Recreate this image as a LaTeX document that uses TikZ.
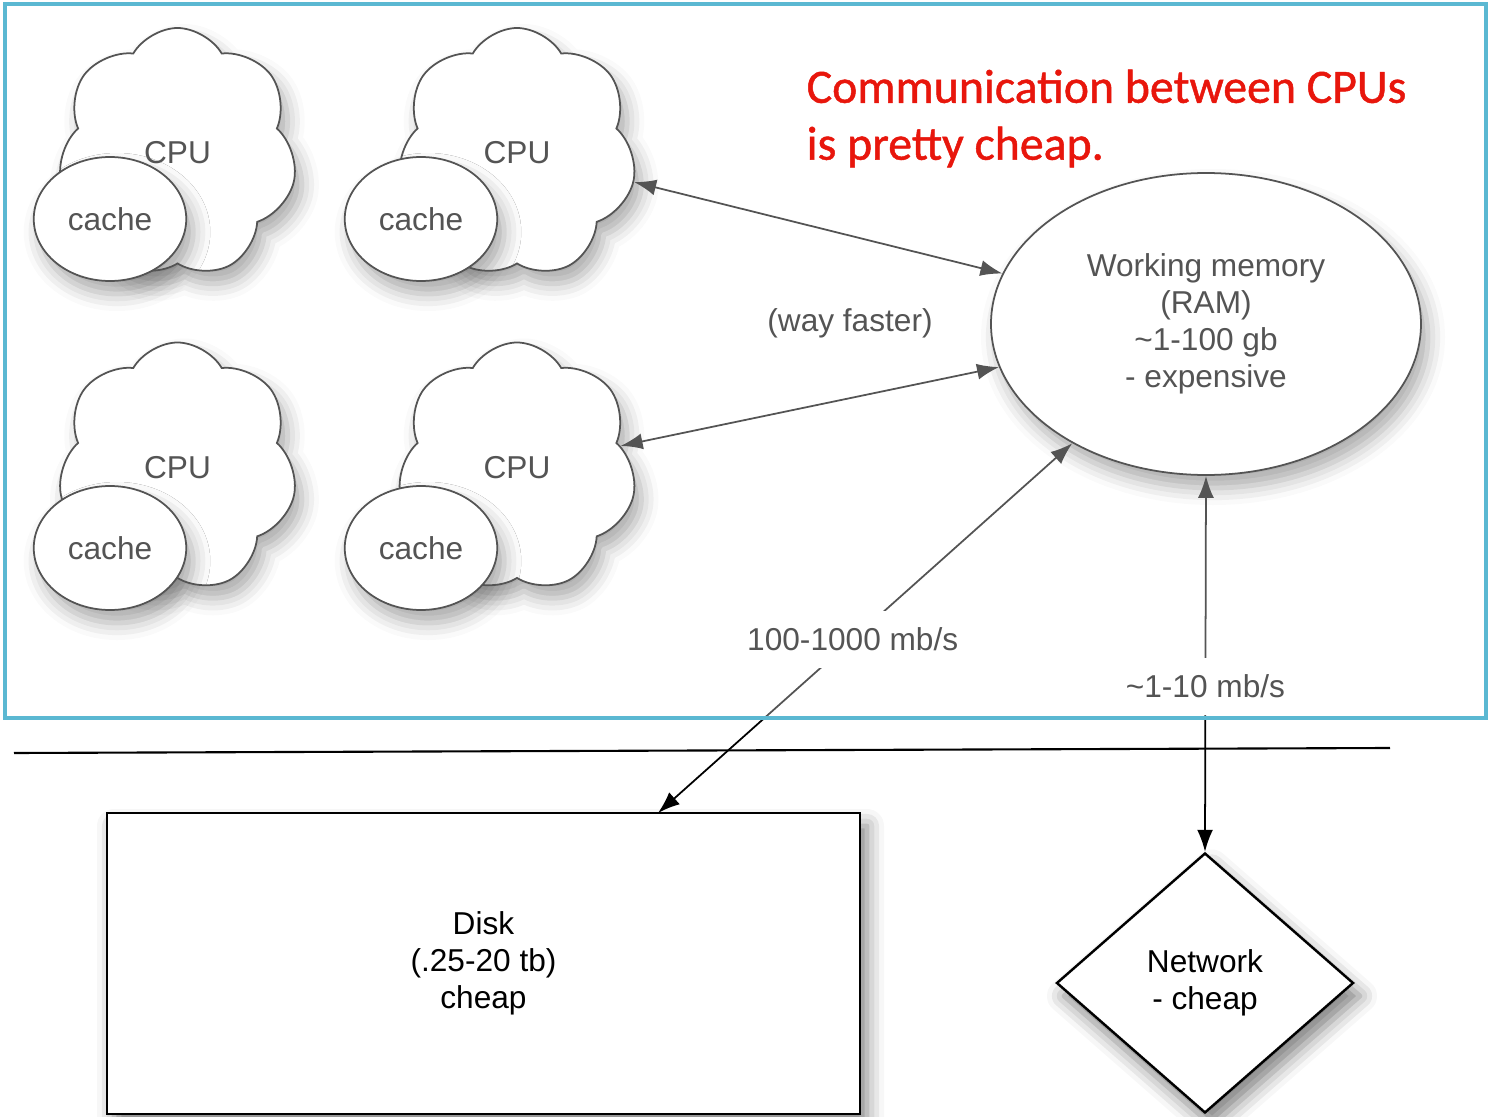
\documentclass[tikz,border=0pt]{standalone}
\usepackage{fontspec}
\setmainfont{Liberation Sans}
\newfontfamily\notefont[FakeBold=1]{Carlito}
\usetikzlibrary{shapes.symbols,shapes.geometric,arrows.meta,shadows.blur}
\definecolor{framecol}{RGB}{91,184,210}
\definecolor{notered}{RGB}{232,22,12}

\tikzset{
  softshadow/.style={blur shadow={shadow xshift=0.7mm, shadow yshift=-1.3mm, shadow blur radius=1.7mm, shadow opacity=50}},
  cpucloud/.style={cloud, cloud puffs=7, cloud puff arc=120, aspect=1, draw, fill=white,
    minimum width=2.39cm, minimum height=2.5cm, line width=0.5pt, softshadow},
  cachebox/.style={ellipse, draw, fill=white, minimum width=1.5cm, minimum height=1.24cm,
    line width=0.5pt, softshadow},
  link/.style={line width=0.5pt, {Latex[length=2.2mm,width=1.6mm]}-{Latex[length=2.2mm,width=1.6mm]}},
  ratelabel/.style={fill=white, inner xsep=2pt, inner ysep=0.17cm},
}

\begin{document}
\begin{tikzpicture}[every node/.style={font=\fontsize{9pt}{10.5pt}\selectfont}]
  \useasboundingbox (0,0) rectangle (14.88,-11.17);
  % CPUs with their caches
  \node[cpucloud] (cpu1) at (1.775,-1.53) {CPU};
  \node[cachebox] (cache1) at (1.10,-2.19) {cache};
  \node[cpucloud] (cpu2) at (5.17,-1.53) {CPU};
  \node[cachebox] (cache2) at (4.21,-2.19) {cache};
  \node[cpucloud] (cpu3) at (1.775,-4.675) {CPU};
  \node[cachebox] (cache3) at (1.10,-5.48) {cache};
  \node[cpucloud] (cpu4) at (5.17,-4.675) {CPU};
  \node[cachebox] (cache4) at (4.21,-5.48) {cache};
  % Memory
  \node[ellipse, draw, fill=white, minimum width=4.3cm, minimum height=3.02cm,
    line width=0.5pt, align=center, softshadow] (ram) at (12.06,-3.24)
    {Working memory\\(RAM)\\\textasciitilde1-100 gb\\- expensive};
  % Disk and network
  \node[rectangle, draw, fill=white, minimum width=7.53cm, minimum height=3.01cm,
    line width=0.7pt, align=center, softshadow] (disk) at (4.835,-9.635)
    {Disk\\(.25-20 tb)\\cheap};
  \node[diamond, draw, fill=white, minimum width=2.97cm, minimum height=2.6cm,
    line width=0.7pt, align=center, softshadow] (netw) at (12.05,-9.83)
    {Network\\- cheap};
  \coordinate (disktop) at (6.58,-8.13);
  % Links
  \draw[link] (cpu2) -- (ram);
  \draw[link] (cpu4) -- (ram);
  \node (faster) at (8.50,-3.23) {(way faster)};
  \draw[link] (ram) -- node[ratelabel, pos=0.53] {100-1000 mb/s} (disktop);
  \draw[link] (ram.south) -- node[ratelabel, pos=0.56] {\textasciitilde1-10 mb/s} (netw.north);
  % Separator
  \coordinate (sepL) at (0.14,-7.53);
  \coordinate (sepR) at (13.90,-7.48);
  \draw[line width=0.6pt] (sepL) -- (sepR);
  % Faded frame
  \fill[white, opacity=0.33] (0.05,-0.04) rectangle (14.86,-7.18);
  \draw[framecol, line width=1.2pt] (0.05,-0.04) rectangle (14.86,-7.18);
  % Note
  \node[anchor=west, align=left, inner sep=0pt, text=notered,
    font=\notefont\fontsize{13.6pt}{16.2pt}\selectfont] (note) at (8.06,-1.185)
    {Communication between CPUs\\is pretty cheap.};
\end{tikzpicture}
\end{document}
